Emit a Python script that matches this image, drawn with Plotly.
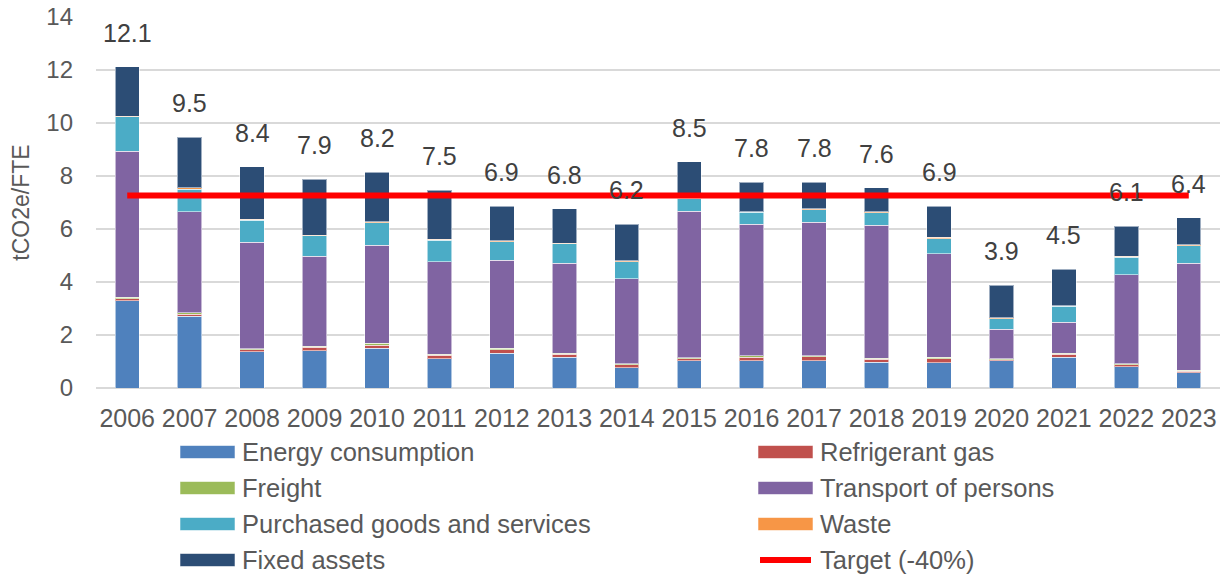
import plotly.graph_objects as go

years = [str(y) for y in range(2006, 2024)]

energy = [3.29, 2.71, 1.37, 1.40, 1.50, 1.10, 1.32, 1.17, 0.76, 1.03, 1.03, 1.03, 0.98, 0.95, 1.02, 1.17, 0.81, 0.57]
refrigerant = [0.08, 0.07, 0.07, 0.14, 0.12, 0.14, 0.13, 0.11, 0.11, 0.08, 0.14, 0.15, 0.10, 0.15, 0.05, 0.10, 0.07, 0.07]
freight = [0.05, 0.06, 0.05, 0.04, 0.06, 0.04, 0.05, 0.04, 0.04, 0.04, 0.04, 0.03, 0.04, 0.06, 0.03, 0.05, 0.04, 0.03]
transport = [5.52, 3.82, 4.01, 3.39, 3.71, 3.49, 3.33, 3.38, 3.21, 5.52, 4.97, 5.04, 5.03, 3.91, 1.12, 1.16, 3.35, 4.03]
purchased = [1.29, 0.84, 0.83, 0.78, 0.85, 0.81, 0.69, 0.74, 0.65, 0.48, 0.45, 0.48, 0.46, 0.57, 0.39, 0.60, 0.66, 0.67]
waste = [0.02, 0.06, 0.03, 0.02, 0.03, 0.03, 0.04, 0.03, 0.03, 0.02, 0.03, 0.03, 0.04, 0.04, 0.04, 0.03, 0.04, 0.04]
fixed = [1.88, 1.91, 1.99, 2.10, 1.88, 1.86, 1.30, 1.30, 1.38, 1.36, 1.10, 1.01, 0.90, 1.18, 1.22, 1.38, 1.13, 1.01]
target = [7.26] * len(years)
total_labels = ["12.1", "9.5", "8.4", "7.9", "8.2", "7.5", "6.9", "6.8", "6.2",
                "8.5", "7.8", "7.8", "7.6", "6.9", "3.9", "4.5", "6.1", "6.4"]

series = [
    ("Energy consumption", energy, "#4F81BD"),
    ("Refrigerant gas", refrigerant, "#C0504D"),
    ("Freight", freight, "#9BBB59"),
    ("Transport of persons", transport, "#8064A2"),
    ("Purchased goods and services", purchased, "#4BACC6"),
    ("Waste", waste, "#F79646"),
    ("Fixed assets", fixed, "#2C4D75"),
]
target_name = "Target (-40%)"
target_color = "#FF0000"

FONT = "Arial, Liberation Sans, sans-serif"
W, H = 1224, 575
ML, MR, MT, MB = 96, 4, 17, 187

fig = go.Figure()
for name, vals, col in series:
    fig.add_trace(go.Bar(
        x=years, y=vals, name=name, showlegend=False,
        marker=dict(color=col, line=dict(color="rgba(255,255,255,0.55)", width=1)),
    ))

fig.add_trace(go.Scatter(
    x=years, y=target, mode="lines", name=target_name, showlegend=False,
    line=dict(color=target_color, width=6),
))

totals = [sum(v[i] for _, v, _ in series) for i in range(len(years))]
for i, (tot, lab) in enumerate(zip(totals, total_labels)):
    # category index i on the category x axis
    fig.add_annotation(x=i, y=tot, text=lab, showarrow=False, yshift=34,
                       font=dict(family=FONT, size=25, color="#404040"))

# custom legend (two columns, four rows) drawn in pixel-derived paper coords
pw = W - ML - MR
ph = H - MT - MB
def px_x(px):
    return (px - ML) / pw
def px_y(py):
    return (H - MB - py) / ph

entries = [(n, c, "bar") for n, _, c in series] + [(target_name, target_color, "line")]
col_x = [180, 758]
row_y = [452, 488, 524, 560]
for i, (name, col, kind) in enumerate(entries):
    cx = col_x[i % 2]
    cy = row_y[i // 2]
    if kind == "bar":
        fig.add_shape(type="rect", xref="paper", yref="paper",
                      x0=px_x(cx), x1=px_x(cx + 55), y0=px_y(cy + 6.5), y1=px_y(cy - 6.5),
                      fillcolor=col, line=dict(color="rgba(255,255,255,0.55)", width=1))
    else:
        fig.add_shape(type="line", xref="paper", yref="paper",
                      x0=px_x(cx + 2), x1=px_x(cx + 53), y0=px_y(cy), y1=px_y(cy),
                      line=dict(color=col, width=6))
    fig.add_annotation(xref="paper", yref="paper", x=px_x(cx + 60), y=px_y(cy),
                       xanchor="left", yanchor="middle", text=name, showarrow=False,
                       font=dict(family=FONT, size=25.5, color="#595959"))

fig.update_layout(
    width=W, height=H,
    margin=dict(l=ML, r=MR, t=MT, b=MB),
    barmode="stack", bargap=0.61,
    plot_bgcolor="white", paper_bgcolor="white",
    font=dict(family=FONT, size=24, color="#595959"),
    showlegend=False,
    xaxis=dict(type="category", range=[-0.5, len(years) - 0.5],
               showgrid=False, showline=False, zeroline=False, ticks="",
               tickfont=dict(size=25), ticklabelstandoff=13),
    yaxis=dict(range=[0, 14], dtick=2, showgrid=True, gridcolor="#D9D9D9", gridwidth=1.5,
               zeroline=True, zerolinecolor="#D9D9D9", zerolinewidth=1.5,
               showline=False, ticks="", tickfont=dict(size=24), ticklabelstandoff=22,
               title=dict(text="tCO2e/FTE", font=dict(size=23), standoff=10)),
)

fig.write_html("out.html", config={"displayModeBar": False},
               post_script="document.body.style.margin='0';")
